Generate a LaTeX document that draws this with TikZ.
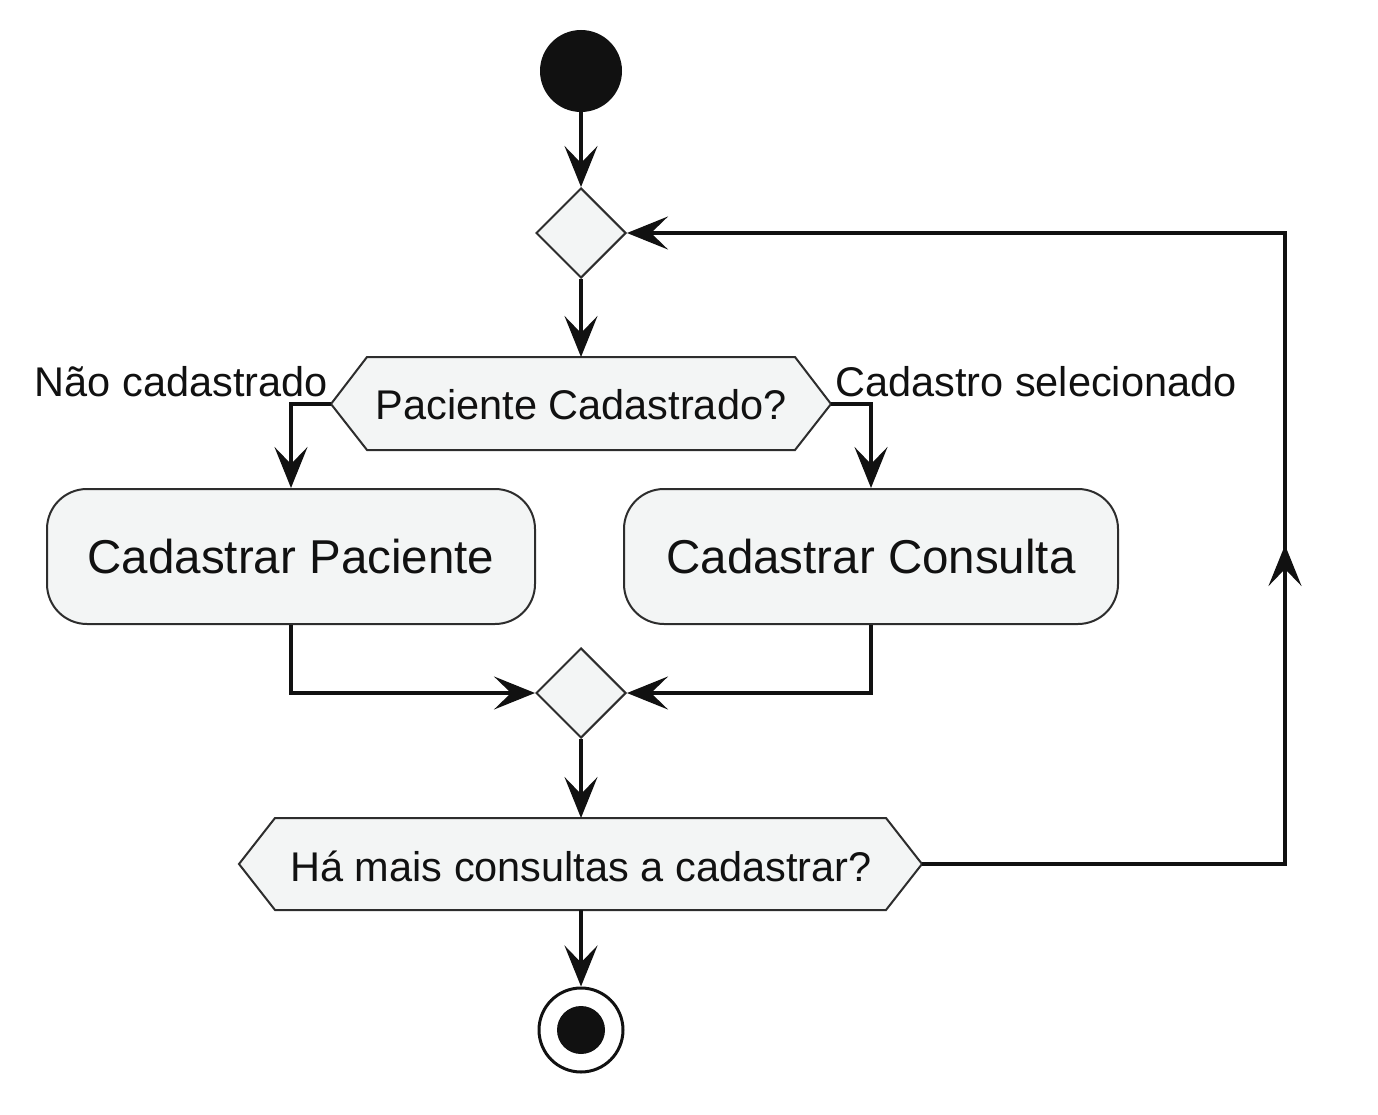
\documentclass[tikz,border=0pt]{standalone}
\usepackage{fontspec}
\setmainfont{Liberation Sans}
\usetikzlibrary{arrows.meta,shapes.geometric,calc}
\definecolor{shfill}{RGB}{243,245,245}
\definecolor{shdraw}{RGB}{45,45,45}
\definecolor{ink}{RGB}{17,17,17}
\begin{document}
\begin{tikzpicture}[x=1pt,y=-1pt,
  tip/.tip={Stealth[length=41pt,width=33pt,inset=17pt]},
  conn/.style={draw=ink, line width=3.2pt, -tip},
  plainline/.style={draw=ink, line width=3.2pt},
  dec/.style={diamond, draw=shdraw, fill=shfill, line width=2pt, minimum width=90pt, minimum height=90pt, inner sep=0pt},
  act/.style={rectangle, rounded corners=40pt, draw=shdraw, fill=shfill, line width=2pt, minimum height=135pt, font=\fontsize{47.5}{57}\selectfont, text=ink},
  hexs/.style={draw=shdraw, fill=shfill, line width=2pt, line join=miter},
  lbl/.style={font=\fontsize{41.5}{50}\selectfont, text=ink, inner sep=0pt},
]
\useasboundingbox (0,0) rectangle (1378,1115);

% start
\node[circle, fill=ink, minimum size=82pt, inner sep=0pt] (start) at (581,71) {};

% first merge diamond
\node[dec] (d1) at (581,233) {};

% hexagon 1
\coordinate (h1w) at (331,404);
\coordinate (h1e) at (831,404);
\coordinate (h1n) at (581,357);
\coordinate (h1s) at (581,450);
\filldraw[hexs] (h1w) -- (367,357) -- (795,357) -- (h1e) -- (795,450) -- (367,450) -- cycle;
\node[lbl] (h1) at (581,405) {Paciente Cadastrado?};

% branch labels
\node[lbl, anchor=base east] (lno) at (328,396) {Não cadastrado};
\node[lbl, anchor=base west] (lyes) at (835,396) {Cadastro selecionado};

% activities
\node[act, minimum width=488pt] (a1) at (291,556.5) {Cadastrar Paciente};
\node[act, minimum width=494pt] (a2) at (871,556.5) {Cadastrar Consulta};

% second merge diamond
\node[dec] (d2) at (581,693) {};

% hexagon 2
\coordinate (h2w) at (239,864);
\coordinate (h2e) at (922,864);
\coordinate (h2n) at (581,818);
\coordinate (h2s) at (581,910);
\filldraw[hexs] (h2w) -- (275,818) -- (886,818) -- (h2e) -- (886,910) -- (275,910) -- cycle;
\node[lbl] (h2) at (581,866) {Há mais consultas a cadastrar?};

% end
\node[circle, draw=ink, line width=3pt, fill=white, minimum size=84pt, inner sep=0pt] (end) at (581,1030) {};
\node[circle, fill=ink, minimum size=48pt, inner sep=0pt] (endin) at (end.center) {};

% loop coordinates
\coordinate (lb) at (1285,864);
\coordinate (lt) at (1285,233);
\coordinate (lm) at (1285,545);

% connectors
\draw[conn] (start.south) -- (d1.north);
\draw[conn] (d1.south) -- (h1n);
\draw[conn] (h1w) -| (a1.north);
\draw[conn] (h1e) -| (a2.north);
\draw[conn] (a1.south) |- (d2.west);
\draw[conn] (a2.south) |- (d2.east);
\draw[conn] (d2.south) -- (h2n);
\draw[conn] (h2s) -- (end.north);
\draw[conn] (h2e) -- (lb) -- (lt) -- (d1.east);
\draw[conn] (lb) -- (lm);
\end{tikzpicture}
\end{document}
